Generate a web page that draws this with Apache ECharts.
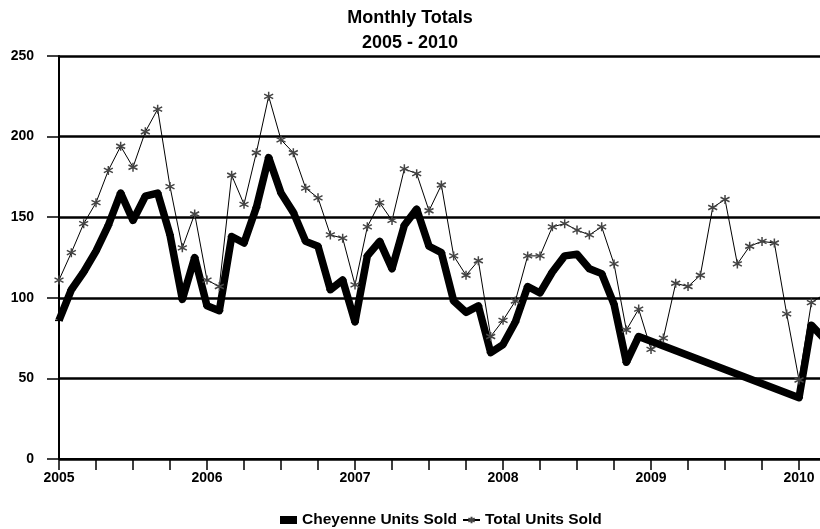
<!DOCTYPE html>
<html>
<head>
<meta charset="utf-8">
<script src="https://cdn.jsdelivr.net/npm/echarts@6/dist/echarts.min.js"></script>
<style>
html,body{margin:0;padding:0;background:#fff;}
#chart{width:820px;height:529px;}
</style>
</head>
<body>
<div id="chart"></div>
<script>
// Month index 0 = Jan 2005
const yearLabels = ['2005', '2006', '2007', '2008', '2009', '2010'];
const cheyenneUnits = [
  86, 105, 116, 129, 145, 165, 148, 163, 165, 139, 99, 125,
  95, 92, 138, 134, 156, 187, 165, 153, 135, 132, 105, 111,
  85, 126, 135, 118, 145, 155, 132, 128, 98, 91, 95, 66,
  71, 85, 107, 103, 116, 126, 127, 118, 115, 96, 60, 76,
  null, null, null, null, null, null, null, null, null, null, null, null,
  38, 83, 75
];
const totalUnits = [
  111, 128, 146, 159, 179, 194, 181, 203, 217, 169, 131, 152,
  111, 107, 176, 158, 190, 225, 198, 190, 168, 162, 139, 137,
  108, 144, 159, 148, 180, 177, 154, 170, 126, 114, 123, 76,
  86, 98, 126, 126, 144, 146, 142, 139, 144, 121, 80, 93,
  68, 75, 109, 107, 114, 156, 161, 121, 132, 135, 134, 90,
  49, 97, 102
];

const toPairs = arr => arr.map((v, i) => [i, v]);
const tickVals = []; for (let m = 0; m <= 60; m += 3) tickVals.push(m);
const labelVals = yearLabels.map((_, i) => i * 12);
const FONT = '"Liberation Sans", Arial, sans-serif';
const asterisk = 'path://M5,0L5,10M0.7,2.5L9.3,7.5M0.7,7.5L9.3,2.5';

const chart = echarts.init(document.getElementById('chart'));
chart.setOption({
  animation: false,
  backgroundColor: '#fff',
  title: {
    text: 'Monthly Totals\n2005 - 2010',
    left: 'center',
    top: 1,
    textStyle: { fontFamily: FONT, fontWeight: 'bold', fontSize: 18, lineHeight: 25, color: '#000' }
  },
  legend: {
    top: 507,
    left: 275,
    itemGap: 5,
    itemWidth: 17,
    itemHeight: 8,
    textStyle: { fontFamily: FONT, fontWeight: 'bold', fontSize: 15.5, color: '#000' },
    data: [
      { name: 'Cheyenne Units Sold', icon: 'rect' },
      { name: 'Total Units Sold' }
    ]
  },
  grid: { left: 59, right: 0, top: 56, bottom: 70, containLabel: false },
  xAxis: {
    type: 'value',
    min: 0,
    max: 61.7,
    interval: 3,
    axisLine: { lineStyle: { color: '#000', width: 2 } },
    axisTick: { show: true, length: 11, lineStyle: { color: '#000', width: 1.5 }, customValues: tickVals },
    axisLabel: {
      customValues: labelVals,
      margin: 12,
      fontFamily: FONT, fontWeight: 'bold', fontSize: 14, color: '#000',
      formatter: v => (v % 12 === 0 ? yearLabels[v / 12] : '')
    },
    splitLine: { show: false }
  },
  yAxis: {
    type: 'value',
    min: 0,
    max: 250,
    interval: 50,
    axisLine: { show: true, lineStyle: { color: '#000', width: 2 } },
    axisTick: { show: true, length: 12, lineStyle: { color: '#000', width: 1.5 } },
    axisLabel: { margin: 25, fontFamily: FONT, fontWeight: 'bold', fontSize: 14, color: '#000' },
    splitLine: { show: true, lineStyle: { color: '#000', width: 2.5 } }
  },
  series: [
    {
      name: 'Cheyenne Units Sold',
      type: 'line',
      data: toPairs(cheyenneUnits),
      connectNulls: true,
      symbol: 'rect',
      symbolSize: [8, 1.5],
      showSymbol: true,
      lineStyle: { color: '#000', width: 7.5, join: 'round' },
      itemStyle: { color: '#000' },
      z: 2
    },
    {
      name: 'Total Units Sold',
      type: 'line',
      data: toPairs(totalUnits),
      symbol: asterisk,
      symbolSize: 9,
      showSymbol: true,
      lineStyle: { color: '#000', width: 1 },
      itemStyle: { color: 'rgba(0,0,0,0)', borderColor: '#444', borderWidth: 1.5 },
      z: 3
    }
  ]
});
</script>
</body>
</html>
